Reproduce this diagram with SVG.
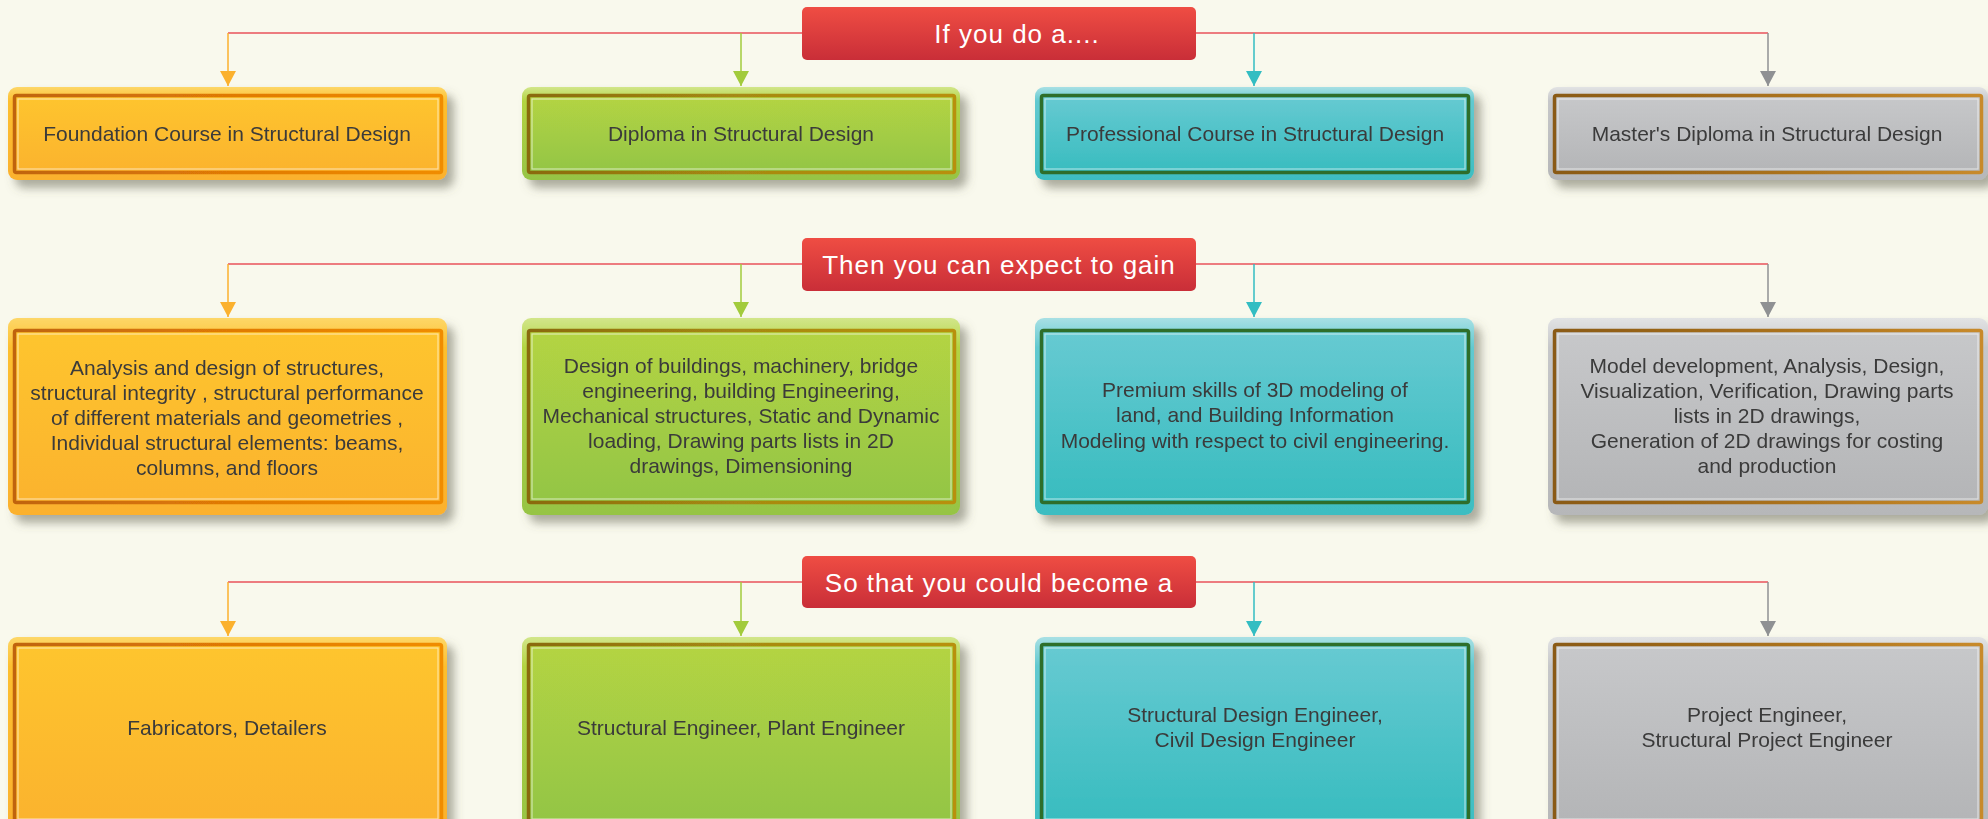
<svg xmlns="http://www.w3.org/2000/svg" width="1988" height="819" viewBox="0 0 1988 819">
<style>
.bg{fill:#f9f9ed}
.hdr rect{fill:url(#gRed)}
.hdr text{font-family:"Liberation Sans",Arial,sans-serif;font-size:26px;fill:#ffffff;text-anchor:middle;letter-spacing:1px}
.hline{stroke:#e8525a;stroke-width:1.5;fill:none}
.v1{stroke:#fbb12e;stroke-width:1.5;fill:none}
.v2{stroke:#a2cb3c;stroke-width:1.5;fill:none}
.v3{stroke:#33bdc2;stroke-width:1.5;fill:none}
.v4{stroke:#8f9193;stroke-width:1.5;fill:none}
.node text{font-family:"Liberation Sans",Arial,sans-serif;font-size:21px;fill:#3a3a3a;text-anchor:middle}
.hl{fill:none;stroke:#ffffff;stroke-opacity:0.55;stroke-width:1.2}
.o .rim{fill:url(#rimO)} .o .in{fill:url(#fillO);stroke:url(#bdO);stroke-width:3.5}
.g .rim{fill:url(#rimG)} .g .in{fill:url(#fillG);stroke:url(#bdG);stroke-width:3.5}
.t .rim{fill:url(#rimT)} .t .in{fill:url(#fillT);stroke:#2e6e2b;stroke-width:3.5}
.s .rim{fill:url(#rimS)} .s .in{fill:url(#fillS);stroke:url(#bdS);stroke-width:3.5}
</style>
<defs>
<filter id="sh" x="-5%" y="-10%" width="115%" height="130%">
<feDropShadow dx="7" dy="8" stdDeviation="5" flood-color="#5e5e50" flood-opacity="0.5"/>
</filter>
<linearGradient id="gRed" x1="0" y1="0" x2="0" y2="1"><stop offset="0" stop-color="#ef4d43"/><stop offset="1" stop-color="#c92e38"/></linearGradient>
<linearGradient id="rimO" x1="0" y1="0" x2="0" y2="1"><stop offset="0" stop-color="#fdd768"/><stop offset="0.15" stop-color="#fdbf2f"/><stop offset="1" stop-color="#fbb12e"/></linearGradient>
<linearGradient id="fillO" x1="0" y1="0" x2="0" y2="1"><stop offset="0" stop-color="#fec52e"/><stop offset="1" stop-color="#fbb32f"/></linearGradient>
<linearGradient id="bdO" x1="0" y1="0" x2="1" y2="0"><stop offset="0" stop-color="#c0640a"/><stop offset="0.5" stop-color="#e07a06"/><stop offset="1" stop-color="#f08c00"/></linearGradient>
<linearGradient id="rimG" x1="0" y1="0" x2="0" y2="1"><stop offset="0" stop-color="#d2e68a"/><stop offset="0.15" stop-color="#b3d443"/><stop offset="1" stop-color="#96c444"/></linearGradient>
<linearGradient id="fillG" x1="0" y1="0" x2="0" y2="1"><stop offset="0" stop-color="#b4d443"/><stop offset="1" stop-color="#93c545"/></linearGradient>
<linearGradient id="bdG" x1="0" y1="0" x2="1" y2="0"><stop offset="0" stop-color="#8a6a10"/><stop offset="0.5" stop-color="#a78a12"/><stop offset="1" stop-color="#b8900a"/></linearGradient>
<linearGradient id="rimT" x1="0" y1="0" x2="0" y2="1"><stop offset="0" stop-color="#a8e0e4"/><stop offset="0.15" stop-color="#62c9d0"/><stop offset="1" stop-color="#3dbdc1"/></linearGradient>
<linearGradient id="fillT" x1="0" y1="0" x2="0" y2="1"><stop offset="0" stop-color="#67cad2"/><stop offset="1" stop-color="#38bcbf"/></linearGradient>
<linearGradient id="rimS" x1="0" y1="0" x2="0" y2="1"><stop offset="0" stop-color="#e2e3e4"/><stop offset="0.15" stop-color="#c6c7c9"/><stop offset="1" stop-color="#b6b7b9"/></linearGradient>
<linearGradient id="fillS" x1="0" y1="0" x2="0" y2="1"><stop offset="0" stop-color="#c7c8ca"/><stop offset="1" stop-color="#b4b5b7"/></linearGradient>
<linearGradient id="bdS" x1="0" y1="0" x2="1" y2="0"><stop offset="0" stop-color="#8a5a14"/><stop offset="0.5" stop-color="#a8701c"/><stop offset="1" stop-color="#c88a2a"/></linearGradient>
<marker id="a1" markerUnits="userSpaceOnUse" markerWidth="16" markerHeight="16" refX="15" refY="8" orient="auto"><path d="M0,0 L15,8 L0,16 z" fill="#fbb12e"/></marker>
<marker id="a2" markerUnits="userSpaceOnUse" markerWidth="16" markerHeight="16" refX="15" refY="8" orient="auto"><path d="M0,0 L15,8 L0,16 z" fill="#a2cb3c"/></marker>
<marker id="a3" markerUnits="userSpaceOnUse" markerWidth="16" markerHeight="16" refX="15" refY="8" orient="auto"><path d="M0,0 L15,8 L0,16 z" fill="#33bdc2"/></marker>
<marker id="a4" markerUnits="userSpaceOnUse" markerWidth="16" markerHeight="16" refX="15" refY="8" orient="auto"><path d="M0,0 L15,8 L0,16 z" fill="#8f9193"/></marker>
</defs>
<rect class="bg" x="0" y="0" width="1988" height="819"/>

<g id="connectors">
<path class="hline" d="M228,33 H1768"/>
<path class="v1" d="M228,33 V86" marker-end="url(#a1)"/>
<path class="v2" d="M741,33 V86" marker-end="url(#a2)"/>
<path class="v3" d="M1254,33 V86" marker-end="url(#a3)"/>
<path class="v4" d="M1768,33 V86" marker-end="url(#a4)"/>
<path class="hline" d="M228,264 H1768"/>
<path class="v1" d="M228,264 V317" marker-end="url(#a1)"/>
<path class="v2" d="M741,264 V317" marker-end="url(#a2)"/>
<path class="v3" d="M1254,264 V317" marker-end="url(#a3)"/>
<path class="v4" d="M1768,264 V317" marker-end="url(#a4)"/>
<path class="hline" d="M228,582 H1768"/>
<path class="v1" d="M228,582 V636" marker-end="url(#a1)"/>
<path class="v2" d="M741,582 V636" marker-end="url(#a2)"/>
<path class="v3" d="M1254,582 V636" marker-end="url(#a3)"/>
<path class="v4" d="M1768,582 V636" marker-end="url(#a4)"/>
</g>

<g id="h1" class="hdr"><rect x="802" y="7" width="394" height="53" rx="5"/><text x="1017" y="43">If you do a....</text></g>
<g id="h2" class="hdr"><rect x="802" y="238" width="394" height="53" rx="5"/><text x="999" y="274">Then you can expect to gain</text></g>
<g id="h3" class="hdr"><rect x="802" y="556" width="394" height="52" rx="5"/><text x="999" y="592">So that you could become a</text></g>

<g id="r1c1" class="node o" filter="url(#sh)"><rect class="rim" x="8" y="87" width="439" height="93" rx="9"/><rect class="in" x="14.5" y="95.5" width="427" height="77" rx="2"/><rect class="hl" x="18" y="99" width="420" height="70"/><text x="227" y="141">Foundation Course in Structural Design</text></g>
<g id="r1c2" class="node g" filter="url(#sh)"><rect class="rim" x="522" y="87" width="438" height="93" rx="9"/><rect class="in" x="528.5" y="95.5" width="426" height="77" rx="2"/><rect class="hl" x="532" y="99" width="419" height="70"/><text x="741" y="141">Diploma in Structural Design</text></g>
<g id="r1c3" class="node t" filter="url(#sh)"><rect class="rim" x="1035" y="87" width="439" height="93" rx="9"/><rect class="in" x="1041.5" y="95.5" width="427" height="77" rx="2"/><rect class="hl" x="1045" y="99" width="420" height="70"/><text x="1255" y="141">Professional Course in Structural Design</text></g>
<g id="r1c4" class="node s" filter="url(#sh)"><rect class="rim" x="1548" y="87" width="440" height="93" rx="9"/><rect class="in" x="1554.5" y="95.5" width="427" height="77" rx="2"/><rect class="hl" x="1558" y="99" width="420" height="70"/><text x="1767" y="141">Master's Diploma in Structural Design</text></g>

<g id="r2c1" class="node o" filter="url(#sh)"><rect class="rim" x="8" y="318" width="439" height="197" rx="9"/><rect class="in" x="14.5" y="330.5" width="427" height="172" rx="2"/><rect class="hl" x="18" y="334" width="420" height="165"/><text x="227"><tspan x="227" y="375">Analysis and design of structures,</tspan><tspan x="227" y="400">structural integrity , structural performance</tspan><tspan x="227" y="425">of different materials and geometries ,</tspan><tspan x="227" y="450">Individual structural elements: beams,</tspan><tspan x="227" y="475">columns, and floors</tspan></text></g>
<g id="r2c2" class="node g" filter="url(#sh)"><rect class="rim" x="522" y="318" width="438" height="197" rx="9"/><rect class="in" x="528.5" y="330.5" width="426" height="172" rx="2"/><rect class="hl" x="532" y="334" width="419" height="165"/><text x="741"><tspan x="741" y="373">Design of buildings, machinery, bridge</tspan><tspan x="741" y="398">engineering, building Engineering,</tspan><tspan x="741" y="423">Mechanical structures, Static and Dynamic</tspan><tspan x="741" y="448">loading, Drawing parts lists in 2D</tspan><tspan x="741" y="473">drawings, Dimensioning</tspan></text></g>
<g id="r2c3" class="node t" filter="url(#sh)"><rect class="rim" x="1035" y="318" width="439" height="197" rx="9"/><rect class="in" x="1041.5" y="330.5" width="427" height="172" rx="2"/><rect class="hl" x="1045" y="334" width="420" height="165"/><text x="1255"><tspan x="1255" y="397">Premium skills of 3D modeling of</tspan><tspan x="1255" y="422">land, and Building Information</tspan><tspan x="1255" y="448">Modeling with respect to civil engineering.</tspan></text></g>
<g id="r2c4" class="node s" filter="url(#sh)"><rect class="rim" x="1548" y="318" width="440" height="197" rx="9"/><rect class="in" x="1554.5" y="330.5" width="427" height="172" rx="2"/><rect class="hl" x="1558" y="334" width="420" height="165"/><text x="1767"><tspan x="1767" y="373">Model development, Analysis, Design,</tspan><tspan x="1767" y="398">Visualization, Verification, Drawing parts</tspan><tspan x="1767" y="423">lists in 2D drawings,</tspan><tspan x="1767" y="448">Generation of 2D drawings for costing</tspan><tspan x="1767" y="473">and production</tspan></text></g>

<g id="r3c1" class="node o" filter="url(#sh)"><rect class="rim" x="8" y="637" width="439" height="195" rx="9"/><rect class="in" x="14.5" y="644.5" width="427" height="178" rx="2"/><rect class="hl" x="18" y="648" width="420" height="171"/><text x="227" y="735">Fabricators, Detailers</text></g>
<g id="r3c2" class="node g" filter="url(#sh)"><rect class="rim" x="522" y="637" width="438" height="195" rx="9"/><rect class="in" x="528.5" y="644.5" width="426" height="178" rx="2"/><rect class="hl" x="532" y="648" width="419" height="171"/><text x="741" y="735">Structural Engineer, Plant Engineer</text></g>
<g id="r3c3" class="node t" filter="url(#sh)"><rect class="rim" x="1035" y="637" width="439" height="195" rx="9"/><rect class="in" x="1041.5" y="644.5" width="427" height="178" rx="2"/><rect class="hl" x="1045" y="648" width="420" height="171"/><text x="1255"><tspan x="1255" y="722">Structural Design Engineer,</tspan><tspan x="1255" y="747">Civil Design Engineer</tspan></text></g>
<g id="r3c4" class="node s" filter="url(#sh)"><rect class="rim" x="1548" y="637" width="440" height="195" rx="9"/><rect class="in" x="1554.5" y="644.5" width="427" height="178" rx="2"/><rect class="hl" x="1558" y="648" width="420" height="171"/><text x="1767"><tspan x="1767" y="722">Project Engineer,</tspan><tspan x="1767" y="747">Structural Project Engineer</tspan></text></g>
</svg>
